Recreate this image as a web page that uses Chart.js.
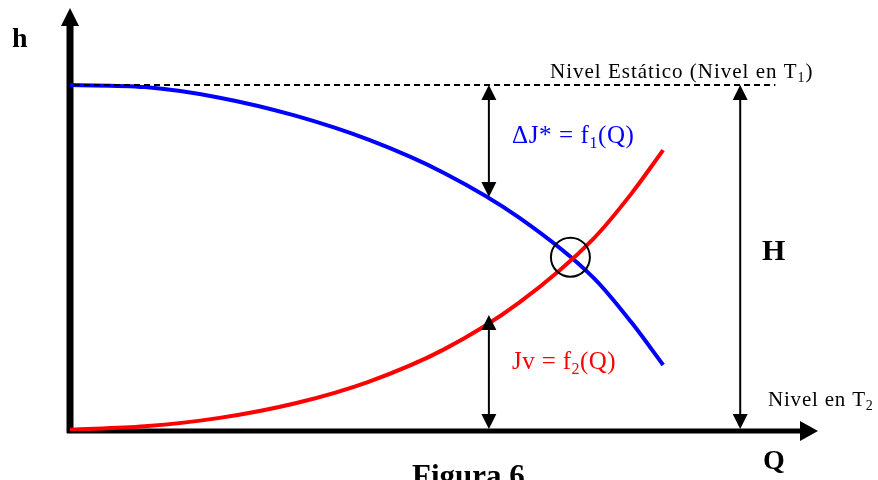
<!DOCTYPE html>
<html>
<head>
<meta charset="utf-8">
<script src="https://cdn.jsdelivr.net/npm/chart.js@4"></script>
<style>
  body { margin: 0; background: #fff; }
</style>
</head>
<body>
<canvas id="curvas" width="878" height="480"></canvas>
<script>
'use strict';
// curva de la bomba (dJ*) y curva de perdidas (Jv)
const caudal = [0, 1, 2, 3, 4, 5, 6, 7, 7.5, 7.93];
const alturaBomba = [8.18, 8.13, 7.88, 7.46, 6.88, 6.1, 5.05, 3.62, 2.58, 1.56];
const alturaPerdidas = [0.03, 0.11, 0.31, 0.65, 1.17, 1.93, 3.03, 4.55, 5.6, 6.64];

const nivelEstatico = 8.18;   // altura del nivel en T1
const qCota = 5.6;            // donde van las flechas dJ* y Jv
const hCotaBomba = 5.53;
const hCotaPerdidas = 2.74;
const qAlturaH = 8.96;        // flecha de H
const qFinNivel = 9.43;       // fin de la linea de trazos
const puntoFuncionamiento = { q: 6.69, h: 4.11 };

const serif = '"Liberation Serif", "Times New Roman", serif';

const toXY = (qs, hs) => qs.map((q, i) => ({ x: q, y: hs[i] }));

// flecha: linea de (x1,y1) a (x2,y2) con punta en el segundo punto
function flecha(ctx, x1, y1, x2, y2, ancho, largo, grosor) {
	const ang = Math.atan2(y2 - y1, x2 - x1);
	ctx.save();
	ctx.strokeStyle = '#000';
	ctx.fillStyle = '#000';
	ctx.lineWidth = grosor;
	ctx.beginPath();
	ctx.moveTo(x1, y1);
	ctx.lineTo(x2 - Math.cos(ang) * largo * 0.8, y2 - Math.sin(ang) * largo * 0.8);
	ctx.stroke();
	ctx.translate(x2, y2);
	ctx.rotate(ang);
	ctx.beginPath();
	ctx.moveTo(0, 0);
	ctx.lineTo(-largo, -ancho / 2);
	ctx.lineTo(-largo, ancho / 2);
	ctx.closePath();
	ctx.fill();
	ctx.restore();
}

function flechaDoble(ctx, x, y1, y2) {
	const ym = (y1 + y2) / 2;
	flecha(ctx, x, ym, x, y1, 15, 15, 2);
	flecha(ctx, x, ym, x, y2, 15, 15, 2);
}

// texto con subindices: partes = [[texto, esSub], ...]
function texto(ctx, partes, x, y, size, color, bold, espacio) {
	ctx.save();
	ctx.fillStyle = color;
	ctx.textBaseline = 'alphabetic';
	ctx.textAlign = 'left';
	ctx.letterSpacing = (espacio || 0) + 'px';
	let cx = x;
	partes.forEach(([t, sub]) => {
		const s = sub ? Math.round(size * 0.65) : size;
		ctx.font = (bold ? 'bold ' : '') + s + 'px ' + serif;
		ctx.fillText(t, cx, sub ? y + size * 0.2 : y);
		cx += ctx.measureText(t).width;
	});
	ctx.restore();
}

const dibujoExtra = {
	id: 'dibujoExtra',
	beforeDatasetsDraw(chart) {
		const { ctx, chartArea: a, scales: { x, y } } = chart;
		const x0 = x.getPixelForValue(0);
		const y0 = y.getPixelForValue(0);
		// ejes con flecha
		flecha(ctx, x0, y0 + 2, x0, a.top, 18, 18, 7);
		flecha(ctx, x0 - 3, y0, a.right, y0, 20, 18, 5);
	},
	afterDatasetsDraw(chart) {
		const { ctx, scales: { x, y } } = chart;
		const y0 = y.getPixelForValue(0);
		const yN = y.getPixelForValue(nivelEstatico);

		// nivel estatico a trazos
		ctx.save();
		ctx.strokeStyle = '#000';
		ctx.lineWidth = 2;
		ctx.setLineDash([6, 4]);
		ctx.beginPath();
		ctx.moveTo(x.getPixelForValue(0) + 4, yN);
		ctx.lineTo(x.getPixelForValue(qFinNivel), yN);
		ctx.stroke();
		ctx.restore();

		// cotas
		const xc = x.getPixelForValue(qCota);
		flechaDoble(ctx, xc, yN, y.getPixelForValue(hCotaBomba));
		flechaDoble(ctx, xc, y.getPixelForValue(hCotaPerdidas), y0 - 2);
		flechaDoble(ctx, x.getPixelForValue(qAlturaH), yN, y0 - 2);

		// punto de funcionamiento
		ctx.save();
		ctx.strokeStyle = '#000';
		ctx.lineWidth = 2;
		ctx.beginPath();
		ctx.arc(x.getPixelForValue(puntoFuncionamiento.q), y.getPixelForValue(puntoFuncionamiento.h), 19.5, 0, Math.PI * 2);
		ctx.stroke();
		ctx.restore();

		// rotulos
		texto(ctx, [['h', false]], 12, 47, 28, '#000', true);
		texto(ctx, [['Nivel Estático (Nivel en T', false], ['1', true], [')', false]], 550, 78, 21, '#000', false, 1);
		texto(ctx, [['ΔJ* = f', false], ['1', true], ['(Q)', false]], 512, 143, 25, '#0000ff', false, 0.6);
		texto(ctx, [['Jv = f', false], ['2', true], ['(Q)', false]], 512, 369, 25, '#ff0000', false, 0.4);
		texto(ctx, [['H', false]], 762, 260, 30, '#000', true);
		texto(ctx, [['Nivel en T', false], ['2', true]], 768, 406, 21, '#000', false, 0.8);
		texto(ctx, [['Q', false]], 763, 469, 28, '#000', true);
		texto(ctx, [['Figura 6', false]], 412, 486, 31, '#000', true);
	}
};

new Chart(document.getElementById('curvas'), {
	type: 'line',
	data: {
		datasets: [
			{
				label: 'Jv = f2(Q)',
				data: toXY(caudal, alturaPerdidas),
				borderColor: '#ff0000',
				borderWidth: 4,
				pointRadius: 0,
				cubicInterpolationMode: 'monotone',
				order: 1,
			},
			{
				label: 'ΔJ* = f1(Q)',
				data: toXY(caudal, alturaBomba),
				borderColor: '#0000ff',
				borderWidth: 4,
				pointRadius: 0,
				cubicInterpolationMode: 'monotone',
				order: 2,
			},
		],
	},
	options: {
		responsive: false,
		animation: false,
		layout: { padding: { left: 70, right: 60, top: 8, bottom: 49 } },
		scales: {
			x: { type: 'linear', min: 0, max: 10, display: false },
			y: { type: 'linear', min: 0, max: 10, display: false },
		},
		plugins: {
			legend: { display: false },
			tooltip: { enabled: false },
		},
		elements: { line: { borderCapStyle: 'butt' } },
	},
	plugins: [dibujoExtra],
});
</script>
</body>
</html>
